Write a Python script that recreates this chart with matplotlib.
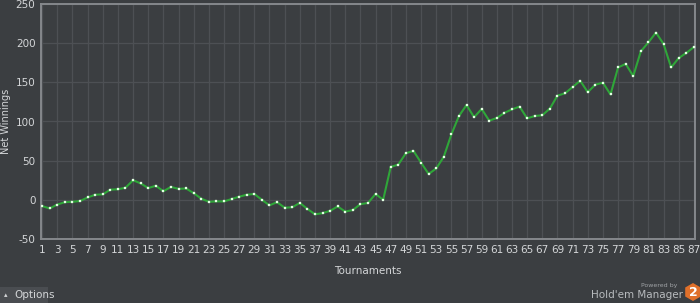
import matplotlib.pyplot as plt
from matplotlib.patches import RegularPolygon, Rectangle

plt.rcParams['axes.unicode_minus'] = False

# Tournament number and cumulative net winnings
tournaments = list(range(1, 88))
net_winnings = [
    -8, -11, -6, -3, -2.5, -1.5, 3, 6.5, 7, 13,
    13.5, 15.5, 25, 21, 15, 18, 11, 16.5, 14, 14.5,
    8.5, 1.5, -2.5, -2, -2, 1, 4, 6.5, 7.5, 0,
    -7, -3, -10, -9.5, -4, -11.5, -18.5, -17, -14, -8.5,
    -15, -13, -5.5, -4, 7.5, 0, 42, 45, 59.5, 62.5,
    47.5, 33, 40, 55, 83.5, 107, 121, 105.5, 116, 101,
    104.5, 111, 115.5, 119, 104, 107, 108, 116.5, 133, 136,
    144, 152, 137.5, 147, 149.5, 134.5, 169, 173.5, 158, 189.5,
    201, 213.5, 199, 169, 181, 187.5, 195,
]
x_ticks = list(range(1, 88, 2))
y_ticks = [-50, 0, 50, 100, 150, 200, 250]

bg = '#3b3e41'
grid_c = '#4d5054'
frame_c = '#85888c'
text_c = '#d4d6d8'

fig = plt.figure(figsize=(7, 3.03), dpi=100, facecolor=bg)
ax = fig.add_axes([41 / 700, 64 / 303, 654 / 700, 235 / 303], facecolor=bg)

ax.plot(tournaments, net_winnings, color='#2fa639', linewidth=1.5, zorder=3,
        marker='s', markersize=1.9, markerfacecolor='#e4ffe4',
        markeredgecolor='#e4ffe4', markeredgewidth=0.2)

ax.set_xlim(0.85, 87.15)
ax.set_ylim(-50, 250)
ax.set_xticks(x_ticks)
ax.set_yticks(y_ticks)
ax.grid(True, color=grid_c, linewidth=0.9)
ax.set_axisbelow(True)
ax.tick_params(colors=text_c, labelsize=7.5, length=0, pad=4)
for s in ax.spines.values():
    s.set_color(frame_c)
    s.set_linewidth(1.4)

ax.set_xlabel('Tournaments', color=text_c, fontsize=7.5)
ax.xaxis.set_label_coords(0.5, -27 / 235)
ax.set_ylabel('Net Winnings', color=text_c, fontsize=7)
ax.yaxis.set_label_coords(-30 / 654, 0.5)

# Options button bottom-left
fig.patches.append(Rectangle((0, 0), 48 / 700, 16 / 303, transform=fig.transFigure,
                             facecolor='#4a4d51', edgecolor='none'))
fig.text(4 / 700, 8 / 303, '\u25b4', color=text_c, fontsize=5, va='center')
fig.text(14 / 700, 8 / 303, 'Options', color=text_c, fontsize=7.5, va='center')

# Branding bottom-right
fig.text(677 / 700, 18 / 303, 'Powered by', color='#a0a3a6', fontsize=4.5,
         ha='right', va='center')
fig.text(683 / 700, 8 / 303, "Hold'em Manager", color='#b8bbbe', fontsize=7.5,
         ha='right', va='center')
bax = fig.add_axes([684 / 700, 1 / 303, 18 / 700, 20 / 303])
bax.set_xlim(-1, 1)
bax.set_ylim(-1.1, 1.1)
bax.set_aspect('equal')
bax.axis('off')
bax.add_patch(RegularPolygon((0, 0), numVertices=6, radius=1.0, orientation=0,
                             facecolor='#e0702a', edgecolor='none'))
bax.text(0, -0.05, '2', color='white', fontsize=9, fontweight='bold',
         ha='center', va='center')

fig.savefig('out.png', dpi=100, facecolor=bg)
